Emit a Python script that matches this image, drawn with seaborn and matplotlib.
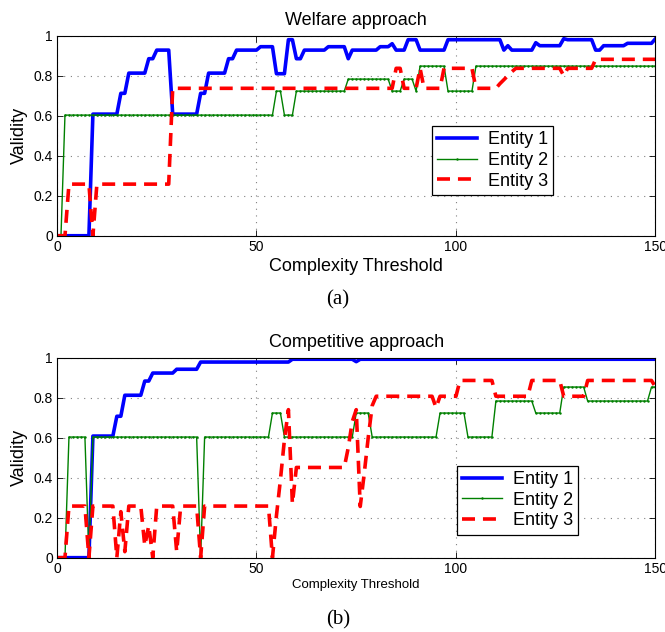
import numpy as np
import pandas as pd
import matplotlib
matplotlib.use("Agg")
import matplotlib.pyplot as plt
import seaborn as sns

# complexity thresholds 0..150
threshold = np.arange(0, 151)
entities = ["Entity 1", "Entity 2", "Entity 3"]

# curves are stored run-length style: value held for n consecutive thresholds
# (a) welfare approach
wel_e1_val = [0, 0.608, 0.712, 0.813, 0.885, 0.928, 0.608, 0.712, 0.813, 0.885, 0.928, 0.945,
              0.81, 0.98, 0.885, 0.928, 0.945, 0.885, 0.928, 0.945, 0.96, 0.928, 0.98, 0.928,
              0.98, 0.928, 0.95, 0.928, 0.965, 0.95, 0.985, 0.98, 0.928, 0.95, 0.962, 0.985]
wel_e1_n = [9, 7, 2, 5, 2, 4, 7, 2, 5, 2, 6, 4, 3, 2, 2, 6, 5, 1, 7, 3, 1, 3, 3, 7, 14, 1, 1,
            6, 1, 6, 1, 7, 2, 6, 7, 1]
wel_e2_val = [0, 0.603, 0.723, 0.603, 0.723, 0.783, 0.723, 0.783, 0.723, 0.848, 0.723, 0.848]
wel_e2_n = [2, 53, 2, 3, 13, 11, 3, 3, 1, 7, 7, 46]
wel_e3_val = [0, 0.258, 0, 0.258, 0.737, 0.837, 0.737, 0.837, 0.737, 0.837, 0.737, 0.76, 0.78,
              0.80, 0.82, 0.837, 0.80, 0.837, 0.882]
wel_e3_n = [3, 6, 1, 19, 56, 2, 4, 1, 5, 8, 6, 1, 1, 1, 1, 12, 1, 7, 16]

# (b) competitive approach
com_e1_val = [0, 0.608, 0.707, 0.812, 0.883, 0.923, 0.942, 0.978, 0.992, 0.98, 0.992]
com_e1_n = [9, 6, 2, 5, 2, 6, 6, 23, 16, 1, 75]
com_e2_val = [0, 0.603, 0, 0.603, 0, 0.603, 0.723, 0.603, 0.723, 0.603, 0.723, 0.603, 0.783,
              0.723, 0.853, 0.783, 0.853]
com_e2_n = [3, 5, 1, 27, 1, 17, 3, 18, 4, 17, 7, 7, 10, 7, 6, 16, 2]
com_e3_val = [0, 0.258, 0, 0.258, 0, 0.23, 0.03, 0.258, 0.06, 0.16, 0, 0.258, 0.03, 0.258, 0,
              0.258, 0, 0.21, 0.39, 0.59, 0.74, 0.27, 0.451, 0.55, 0.68, 0.74, 0.256, 0.42,
              0.6, 0.76, 0.807, 0.75, 0.807, 0.886, 0.807, 0.886, 0.807, 0.886, 0.853]
com_e3_n = [3, 5, 1, 6, 1, 1, 1, 4, 1, 1, 1, 5, 1, 5, 1, 17, 1, 1, 1, 1, 1, 1, 13, 1, 1, 1, 1,
            1, 1, 1, 15, 1, 5, 9, 9, 8, 6, 17, 1]

xticks = [0, 50, 100, 150]
yticks = [0, 0.2, 0.4, 0.6, 0.8, 1]
ytick_labels = ["0", "0.2", "0.4", "0.6", "0.8", "1"]

plt.rcParams["font.family"] = ["Liberation Sans", "DejaVu Sans"]

styles = [
    dict(color="#0000ff", lw=2.6),
    dict(color="#008000", lw=1.0, marker=".", markersize=3.5,
         markeredgecolor="#008000", markeredgewidth=0),
    dict(color="#ff0000", lw=2.6, linestyle=(0, (3.6, 2.2))),
]


def draw_panel(ax, runs, title, xlabel_size, xlabel_pad, legend_xy):
    df = pd.DataFrame({
        "threshold": np.tile(threshold, 3),
        "validity": np.concatenate([np.repeat(v, n) for v, n in runs]),
        "entity": np.repeat(entities, len(threshold)),
    })
    for name, kw in zip(entities, styles):
        sns.lineplot(data=df[df["entity"] == name], x="threshold", y="validity",
                     ax=ax, label=name, errorbar=None, **kw)
    ax.set_xlim(0, 150)
    ax.set_ylim(0, 1)
    ax.set_xticks(xticks)
    ax.set_yticks(yticks)
    ax.set_yticklabels(ytick_labels)
    ax.grid(True, linestyle=(0, (1, 5)), color="#808080", lw=0.8)
    ax.tick_params(direction="in", top=True, right=True, length=4, width=0.6,
                   labelsize=10, pad=3)
    for s in ax.spines.values():
        s.set_linewidth(0.8)
    ax.set_title(title, fontsize=13, pad=8)
    ax.set_xlabel("Complexity Threshold", fontsize=xlabel_size, labelpad=xlabel_pad)
    ax.set_ylabel("Validity", fontsize=13)
    leg = ax.legend(loc="upper left", bbox_to_anchor=legend_xy, borderaxespad=0,
                    fontsize=13, fancybox=False, framealpha=1, edgecolor="black",
                    numpoints=1, handlelength=2.2, handletextpad=0.6,
                    labelspacing=0.2, borderpad=0.3)
    leg.get_frame().set_linewidth(0.9)


fig = plt.figure(figsize=(6.65, 6.32), dpi=100)
ax1 = fig.add_axes([0.0857, 0.627, 0.900, 0.3165])
ax2 = fig.add_axes([0.0857, 0.1176, 0.900, 0.3165])

draw_panel(ax1, [(wel_e1_val, wel_e1_n), (wel_e2_val, wel_e2_n), (wel_e3_val, wel_e3_n)],
           "Welfare approach", 13, 3, (0.626, 0.549))
draw_panel(ax2, [(com_e1_val, com_e1_n), (com_e2_val, com_e2_n), (com_e3_val, com_e3_n)],
           "Competitive approach", 9.5, 2, (0.668, 0.46))

fig.text(338 / 665, 1 - 300 / 632, "(a)", ha="center", va="center", fontsize=15,
         family="Liberation Serif")
fig.text(338 / 665, 1 - 620 / 632, "(b)", ha="center", va="center", fontsize=15,
         family="Liberation Serif")

fig.savefig("out.png", dpi=100)
